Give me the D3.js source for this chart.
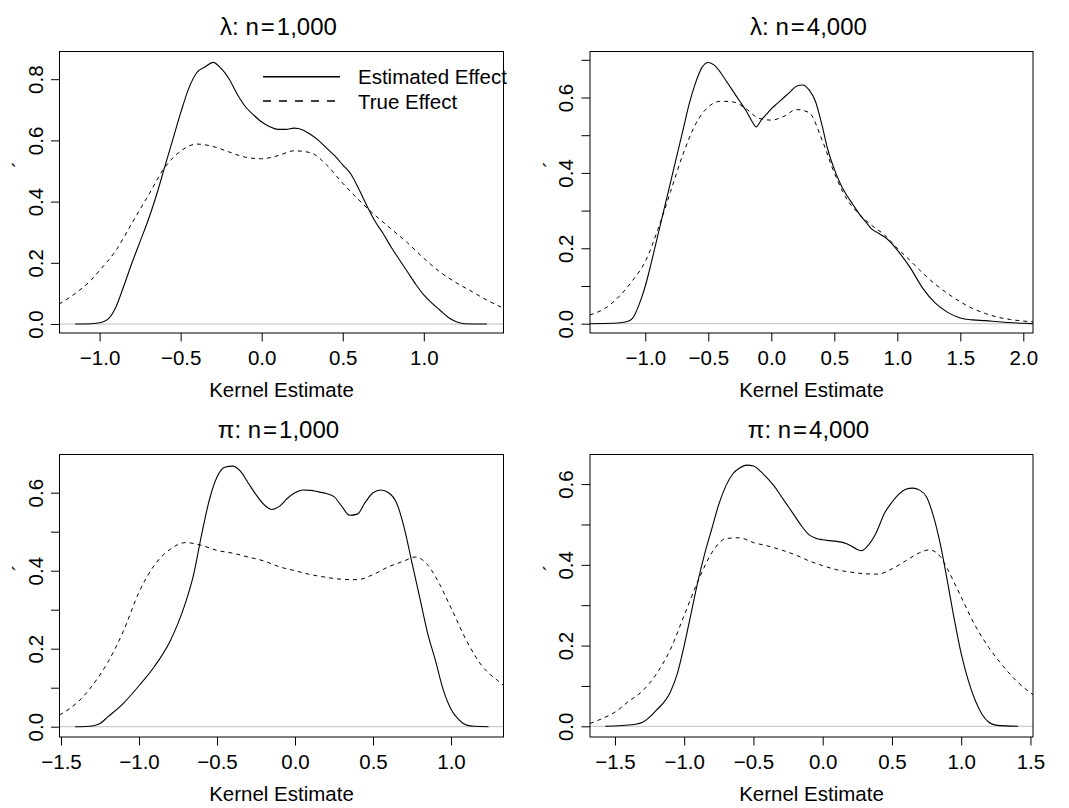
<!DOCTYPE html>
<html>
<head>
<meta charset="utf-8">
<style>
  body { margin: 0; background: #fff; }
  svg { display: block; font-family: "Liberation Sans", Arial, Helvetica, sans-serif; }
</style>
</head>
<body>
<svg width="1069" height="808"></svg>
<script src="https://cdn.jsdelivr.net/npm/d3@7"></script>
<script>
// lambda, n=1,000
const lam1000EstX = [-1.15, -1.05, -1.0, -0.95, -0.9, -0.85, -0.8, -0.75, -0.7, -0.65, -0.6, -0.55, -0.5, -0.45, -0.4, -0.35, -0.3, -0.25, -0.2, -0.15, -0.1, -0.05, 0, 0.05, 0.1, 0.15, 0.2, 0.25, 0.3, 0.35, 0.4, 0.45, 0.5, 0.55, 0.6, 0.65, 0.7, 0.75, 0.8, 0.85, 0.9, 0.95, 1.0, 1.05, 1.1, 1.15, 1.2, 1.25, 1.39];
const lam1000EstY = [0, 0.001, 0.004, 0.015, 0.055, 0.125, 0.2, 0.27, 0.34, 0.42, 0.51, 0.6, 0.69, 0.77, 0.822, 0.84, 0.855, 0.835, 0.8, 0.75, 0.71, 0.683, 0.66, 0.645, 0.636, 0.636, 0.64, 0.635, 0.62, 0.6, 0.575, 0.55, 0.52, 0.49, 0.44, 0.385, 0.335, 0.295, 0.25, 0.21, 0.17, 0.13, 0.095, 0.068, 0.045, 0.022, 0.007, 0.001, 0];
const lam1000TrueX = [-1.25, -1.15, -1.05, -1.0, -0.9, -0.8, -0.7, -0.6, -0.5, -0.4, -0.3, -0.2, -0.1, 0, 0.1, 0.2, 0.3, 0.4, 0.5, 0.6, 0.7, 0.8, 0.9, 1.0, 1.1, 1.2, 1.3, 1.4, 1.5];
const lam1000TrueY = [0.065, 0.1, 0.145, 0.175, 0.24, 0.33, 0.42, 0.51, 0.565, 0.588, 0.58, 0.562, 0.545, 0.54, 0.55, 0.566, 0.56, 0.52, 0.46, 0.405, 0.355, 0.31, 0.265, 0.215, 0.17, 0.135, 0.105, 0.075, 0.05];

// lambda, n=4,000
const lam4000EstX = [-1.44, -1.25, -1.15, -1.1, -1.05, -1.0, -0.95, -0.9, -0.85, -0.8, -0.75, -0.7, -0.65, -0.6, -0.55, -0.5, -0.45, -0.4, -0.35, -0.3, -0.25, -0.2, -0.15, -0.12, -0.08, -0.04, 0, 0.05, 0.1, 0.15, 0.2, 0.25, 0.3, 0.35, 0.4, 0.45, 0.5, 0.55, 0.6, 0.65, 0.7, 0.75, 0.8, 0.85, 0.9, 0.95, 1.0, 1.1, 1.2, 1.3, 1.4, 1.5, 1.6, 1.7, 1.8, 2.0, 2.08];
const lam4000EstY = [0, 0.001, 0.005, 0.015, 0.05, 0.1, 0.165, 0.235, 0.305, 0.375, 0.445, 0.515, 0.585, 0.64, 0.68, 0.693, 0.685, 0.665, 0.64, 0.615, 0.59, 0.565, 0.535, 0.522, 0.54, 0.555, 0.57, 0.585, 0.6, 0.615, 0.63, 0.633, 0.62, 0.59, 0.53, 0.46, 0.41, 0.37, 0.34, 0.315, 0.29, 0.27, 0.25, 0.24, 0.23, 0.215, 0.195, 0.15, 0.095, 0.055, 0.03, 0.015, 0.01, 0.008, 0.005, 0.001, 0];
const lam4000TrueX = [-1.44, -1.3, -1.2, -1.1, -1.0, -0.9, -0.8, -0.7, -0.6, -0.5, -0.4, -0.3, -0.2, -0.1, 0, 0.1, 0.2, 0.3, 0.4, 0.5, 0.6, 0.7, 0.8, 0.9, 1.0, 1.1, 1.2, 1.3, 1.4, 1.5, 1.6, 1.7, 1.8, 1.9, 2.0, 2.08];
const lam4000TrueY = [0.023, 0.045, 0.075, 0.115, 0.165, 0.25, 0.35, 0.45, 0.53, 0.575, 0.59, 0.588, 0.57, 0.545, 0.54, 0.55, 0.568, 0.56, 0.49, 0.4, 0.33, 0.29, 0.26, 0.235, 0.2, 0.168, 0.135, 0.105, 0.08, 0.058, 0.04, 0.027, 0.017, 0.011, 0.007, 0.005];

// pi, n=1,000
const pi1000EstX = [-1.41, -1.3, -1.25, -1.2, -1.1, -1.0, -0.9, -0.8, -0.75, -0.7, -0.65, -0.6, -0.55, -0.5, -0.45, -0.4, -0.35, -0.3, -0.25, -0.2, -0.15, -0.1, -0.05, 0, 0.05, 0.1, 0.15, 0.2, 0.25, 0.3, 0.35, 0.4, 0.45, 0.5, 0.55, 0.6, 0.65, 0.7, 0.75, 0.8, 0.85, 0.9, 0.95, 1.0, 1.05, 1.1, 1.15, 1.24];
const pi1000EstY = [0, 0.002, 0.008, 0.025, 0.06, 0.105, 0.155, 0.22, 0.265, 0.32, 0.39, 0.49, 0.58, 0.64, 0.665, 0.668, 0.655, 0.625, 0.595, 0.57, 0.557, 0.565, 0.585, 0.6, 0.607, 0.606, 0.602, 0.598, 0.59, 0.565, 0.542, 0.545, 0.575, 0.6, 0.607, 0.6, 0.575, 0.51, 0.42, 0.33, 0.24, 0.17, 0.095, 0.045, 0.018, 0.004, 0.001, 0];
const pi1000TrueX = [-1.51, -1.45, -1.39, -1.3, -1.2, -1.1, -1.0, -0.9, -0.8, -0.7, -0.6, -0.5, -0.4, -0.3, -0.2, -0.1, 0, 0.1, 0.2, 0.3, 0.4, 0.5, 0.6, 0.7, 0.77, 0.85, 0.9, 1.0, 1.1, 1.2, 1.3, 1.34];
const pi1000TrueY = [0.03, 0.045, 0.064, 0.105, 0.165, 0.245, 0.345, 0.415, 0.455, 0.472, 0.465, 0.452, 0.445, 0.435, 0.425, 0.41, 0.4, 0.39, 0.383, 0.378, 0.377, 0.39, 0.41, 0.425, 0.435, 0.415, 0.385, 0.305, 0.22, 0.155, 0.118, 0.105];

// pi, n=4,000
const pi4000EstX = [-1.57, -1.45, -1.35, -1.3, -1.2, -1.1, -1.05, -1.0, -0.95, -0.9, -0.85, -0.8, -0.75, -0.7, -0.65, -0.6, -0.55, -0.5, -0.45, -0.4, -0.35, -0.3, -0.25, -0.2, -0.15, -0.1, -0.05, 0, 0.05, 0.1, 0.15, 0.2, 0.25, 0.28, 0.32, 0.38, 0.45, 0.5, 0.55, 0.6, 0.65, 0.7, 0.75, 0.8, 0.85, 0.9, 0.95, 1.0, 1.05, 1.1, 1.15, 1.2, 1.25, 1.41];
const pi4000EstY = [0, 0.002, 0.005, 0.01, 0.04, 0.085, 0.13, 0.2, 0.28, 0.36, 0.43, 0.49, 0.55, 0.595, 0.625, 0.64, 0.647, 0.645, 0.632, 0.615, 0.595, 0.57, 0.545, 0.52, 0.495, 0.475, 0.466, 0.462, 0.46, 0.458, 0.455, 0.448, 0.438, 0.435, 0.445, 0.475, 0.53, 0.555, 0.575, 0.587, 0.59, 0.585, 0.568, 0.52, 0.45, 0.36, 0.265, 0.18, 0.115, 0.065, 0.03, 0.01, 0.003, 0];
const pi4000TrueX = [-1.68, -1.6, -1.5, -1.4, -1.3, -1.2, -1.1, -1.0, -0.9, -0.8, -0.7, -0.6, -0.5, -0.4, -0.3, -0.2, -0.1, 0, 0.1, 0.2, 0.3, 0.4, 0.5, 0.6, 0.7, 0.77, 0.85, 0.9, 1.0, 1.1, 1.2, 1.3, 1.4, 1.52];
const pi4000TrueY = [0.007, 0.018, 0.035, 0.062, 0.088, 0.13, 0.19, 0.275, 0.36, 0.43, 0.465, 0.467, 0.455, 0.447, 0.437, 0.425, 0.41, 0.398, 0.388, 0.382, 0.378, 0.377, 0.39, 0.41, 0.43, 0.437, 0.42, 0.39, 0.32, 0.25, 0.195, 0.15, 0.112, 0.078];

const legendLabels = ["Estimated Effect", "True Effect"];
const xLabel = "Kernel Estimate";
const yLabel = "\u00b4";

const panels = [
  { sym: "λ", n: "1,000", est: [lam1000EstX, lam1000EstY], tru: [lam1000TrueX, lam1000TrueY],
    left: 59.5, right: 503.5, top: 51.5, bottom: 333,
    xlim: [-1.2474, 1.4917], ylim: [-0.0294, 0.8905],
    xTicks: [-1, -0.5, 0, 0.5, 1], yTicks: [0, 0.2, 0.4, 0.6, 0.8], yShown: [0, 0.2, 0.4, 0.6, 0.8], legend: true },
  { sym: "λ", n: "4,000", est: [lam4000EstX, lam4000EstY], tru: [lam4000TrueX, lam4000TrueY],
    left: 590, right: 1033, top: 51.5, bottom: 333,
    xlim: [-1.4389, 2.077], ylim: [-0.0247, 0.722],
    xTicks: [-1, -0.5, 0, 0.5, 1, 1.5, 2], yTicks: [0, 0.1, 0.2, 0.3, 0.4, 0.5, 0.6, 0.7], yShown: [0, 0.2, 0.4, 0.6] },
  { sym: "π", n: "1,000", est: [pi1000EstX, pi1000EstY], tru: [pi1000TrueX, pi1000TrueY],
    left: 59.5, right: 503.5, top: 454.5, bottom: 737,
    xlim: [-1.5096, 1.3365], ylim: [-0.0264, 0.6979],
    xTicks: [-1.5, -1, -0.5, 0, 0.5, 1], yTicks: [0, 0.1, 0.2, 0.3, 0.4, 0.5, 0.6], yShown: [0, 0.2, 0.4, 0.6] },
  { sym: "π", n: "4,000", est: [pi4000EstX, pi4000EstY], tru: [pi4000TrueX, pi4000TrueY],
    left: 590, right: 1033, top: 454.5, bottom: 737,
    xlim: [-1.6801, 1.5184], ylim: [-0.0265, 0.6733],
    xTicks: [-1.5, -1, -0.5, 0, 0.5, 1, 1.5], yTicks: [0, 0.1, 0.2, 0.3, 0.4, 0.5, 0.6], yShown: [0, 0.2, 0.4, 0.6] }
];

const svg = d3.select("svg");
const fmt = d3.format(".1f");
const fs = 20.5;

panels.forEach((p, i) => {
  const x = d3.scaleLinear().domain(p.xlim).range([p.left, p.right]);
  const y = d3.scaleLinear().domain(p.ylim).range([p.bottom, p.top]);
  const cx = (p.left + p.right) / 2;
  const cy = (p.top + p.bottom) / 2;
  const g = svg.append("g");

  g.append("clipPath").attr("id", "clip" + i)
    .append("rect")
    .attr("x", p.left).attr("y", p.top)
    .attr("width", p.right - p.left).attr("height", p.bottom - p.top);

  const plot = g.append("g").attr("clip-path", `url(#clip${i})`);

  // zero line
  plot.append("line")
    .attr("x1", p.left).attr("x2", p.right)
    .attr("y1", y(0)).attr("y2", y(0))
    .attr("stroke", "#bebebe").attr("stroke-width", 1);

  const line = d3.line()
    .x(d => x(d[0]))
    .y(d => y(d[1]))
    .curve(d3.curveMonotoneX);

  plot.append("path")
    .datum(d3.zip(p.est[0], p.est[1]))
    .attr("d", line)
    .attr("fill", "none").attr("stroke", "#000").attr("stroke-width", 1.1);

  plot.append("path")
    .datum(d3.zip(p.tru[0], p.tru[1]))
    .attr("d", line)
    .attr("fill", "none").attr("stroke", "#000").attr("stroke-width", 1)
    .attr("stroke-dasharray", "4,4");

  // box
  g.append("rect")
    .attr("x", p.left).attr("y", p.top)
    .attr("width", p.right - p.left).attr("height", p.bottom - p.top)
    .attr("fill", "none").attr("stroke", "#000").attr("stroke-width", 1);

  // x axis
  const xAxis = g.append("g")
    .attr("transform", `translate(0,${p.bottom})`)
    .call(d3.axisBottom(x).tickValues(p.xTicks).tickSize(8.5).tickFormat(fmt));
  xAxis.select(".domain").remove();
  xAxis.selectAll("line").attr("stroke", "#000");
  xAxis.selectAll("text")
    .attr("y", 32).attr("dy", null)
    .attr("fill", "#000")
    .style("font-size", fs + "px")
    .style("font-family", "'Liberation Sans', Arial, sans-serif");

  // y axis
  const yAxis = g.append("g")
    .attr("transform", `translate(${p.left},0)`)
    .call(d3.axisLeft(y).tickValues(p.yTicks).tickSize(8.5)
      .tickFormat(d => p.yShown.includes(d) ? fmt(d) : ""));
  yAxis.select(".domain").remove();
  yAxis.selectAll("line").attr("stroke", "#000");
  yAxis.selectAll("text")
    .attr("x", 0).attr("y", -17).attr("dy", null)
    .attr("text-anchor", "middle")
    .attr("transform", "rotate(-90)")
    .attr("fill", "#000")
    .style("font-size", fs + "px")
    .style("font-family", "'Liberation Sans', Arial, sans-serif");

  // title
  const t = g.append("text")
    .attr("x", cx - 3).attr("y", p.top - 16.5)
    .attr("text-anchor", "middle")
    .style("font-size", "24px");
  t.append("tspan").text(p.sym + ": n");
  t.append("tspan").attr("dx", 2).text("=");
  t.append("tspan").attr("dx", 2).text(p.n);

  // x label
  g.append("text")
    .attr("x", cx).attr("y", p.bottom + 64)
    .attr("text-anchor", "middle")
    .style("font-size", fs + "px")
    .text(xLabel);

  // y label
  g.append("text")
    .attr("transform", `translate(${p.left - 32.5},${cy - 28}) rotate(-90)`)
    .attr("text-anchor", "middle")
    .style("font-size", fs + "px")
    .text(yLabel);

  if (p.legend) {
    const lg = g.append("g");
    legendLabels.forEach((lab, k) => {
      const ly = 76.7 + k * 24.3;
      lg.append("line")
        .attr("x1", 263).attr("x2", 340)
        .attr("y1", ly).attr("y2", ly)
        .attr("stroke", "#000").attr("stroke-width", 1.6)
        .attr("stroke-dasharray", k === 1 ? "8,8" : null);
      lg.append("text")
        .attr("x", 358).attr("y", ly + 7.5)
        .style("font-size", fs + "px")
        .text(lab);
    });
  }
});
</script>
</body>
</html>
